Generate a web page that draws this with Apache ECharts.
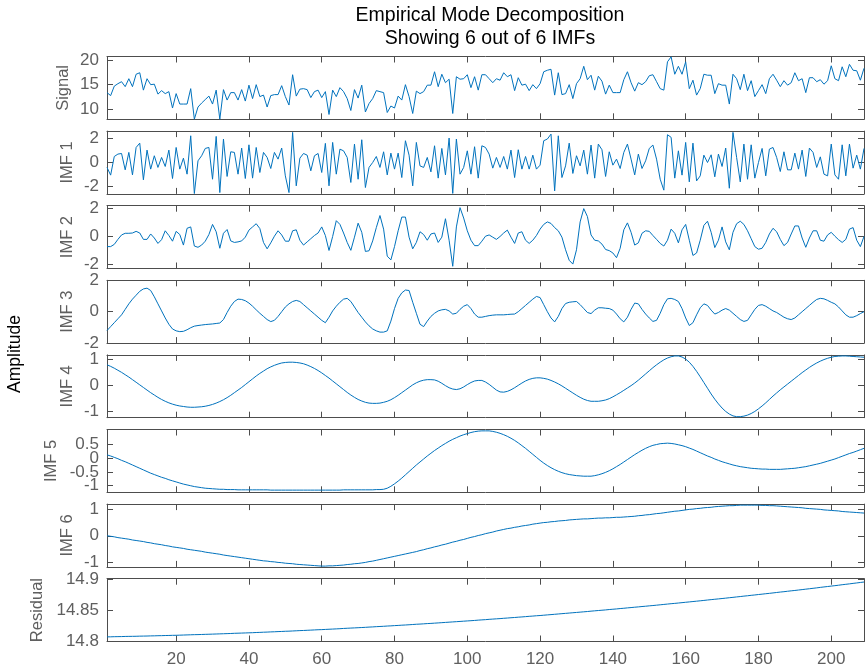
<!DOCTYPE html>
<html><head><meta charset="utf-8">
<script src="https://cdn.jsdelivr.net/npm/echarts@6/dist/echarts.min.js"></script>
<style>html,body{margin:0;padding:0;background:#fff}#c{width:865px;height:670px}</style>
</head><body><div id="c"></div>
<script>
// ---------------- data ----------------
const signal = [
13.4,12.8,14.7,15.2,15.6,14.6,16.2,14.6,17.1,17.4,
13.9,16.2,15.0,15.1,13.1,13.8,13.2,13.6,10.3,13.2,
11.1,11.1,11.1,14.2,8.05,10.5,11.3,12.0,12.7,11.1,
13.9,8.05,14.0,11.9,13.4,13.4,11.9,14.0,11.7,14.9,
12.2,15.0,12.6,12.9,10.5,12.8,13.0,13.0,14.8,12.6,
10.9,17.0,12.7,14.1,14.2,14.0,12.4,13.6,13.9,12.4,
13.6,9.0,13.9,12.6,14.4,13.6,12.2,9.8,14.0,12.3,
14.9,9.5,11.2,12.2,13.8,13.6,13.4,9.4,10.7,10.3,
12.7,11.9,15.0,12.6,9.2,13.7,13.2,13.6,14.9,14.9,
17.6,14.6,17.1,15.4,16.1,9.2,16.6,16.1,16.2,17.0,
14.4,16.6,13.9,17.0,17.0,16.2,15.4,16.2,15.9,17.4,
16.6,17.0,13.8,16.4,14.9,15.1,13.8,15.0,14.2,15.2,
17.6,17.9,18.1,12.9,17.4,13.0,13.2,15.0,12.2,15.2,
16.2,18.7,16.0,16.9,13.9,16.7,15.7,13.1,14.9,13.4,
13.4,13.4,16.0,17.6,15.4,13.7,15.4,15.0,15.6,16.8,
17.0,15.6,14.2,13.9,19.6,20.6,17.1,18.7,17.1,19.6,
14.2,15.9,12.9,14.2,17.1,16.9,16.9,13.2,15.2,14.9,
14.9,11.1,17.1,16.2,14.0,17.1,13.8,15.8,12.6,13.8,
15.0,13.2,16.2,17.1,15.9,14.6,15.8,14.9,15.4,17.4,
15.8,16.2,13.4,16.4,16.4,15.6,16.0,15.1,15.8,18.8,
16.2,15.8,18.6,16.6,19.1,17.9,17.8,15.9,18.3];
const imf1 = [
-0.44,-1.08,0.47,0.67,0.72,-0.64,0.81,-1.06,1.22,1.58,
-1.47,1.0,-0.58,0.53,-0.44,0.39,-0.36,1.0,-1.36,1.22,
-0.58,0.33,-1.0,2.19,-2.61,0.11,0.53,1.14,1.22,-1.42,
2.14,-2.53,1.92,-1.19,0.86,0.81,-1.0,1.17,-1.36,1.44,
-1.33,1.22,-0.86,0.81,0.39,-0.53,0.81,0.25,1.17,-1.14,
-2.53,2.47,-1.97,0.33,0.72,0.58,-0.72,0.53,0.72,-0.86,
1.56,-1.97,1.64,-1.0,1.08,0.94,0.39,-1.69,1.5,-1.42,
1.86,-2.11,-0.44,-0.03,0.47,-0.44,0.86,-1.06,0.75,-0.58,
0.75,-1.28,1.78,0.58,-1.97,1.64,-0.31,-0.44,0.39,-0.81,
1.36,-1.33,1.14,-1.06,2.0,-2.6,1.92,-1.0,-0.44,0.94,
-1.0,1.28,-1.33,1.36,1.22,0.67,-0.5,0.39,-0.44,0.47,
-0.58,1.0,-1.28,1.03,-0.58,0.47,-0.58,0.58,-0.58,-0.25,
1.78,1.92,2.33,-2.39,2.19,-1.28,-0.31,1.58,-0.94,0.53,
-0.31,1.0,-1.0,1.42,-1.33,1.5,1.03,-1.19,0.86,-0.25,
0.25,-0.53,0.81,1.5,0.25,-1.06,0.67,-0.53,0.11,1.14,
1.42,0.25,-1.42,-2.33,2.28,2.06,-1.33,0.94,-1.08,1.64,
-1.64,1.58,-1.56,-1.14,0.58,-0.03,0.61,-1.22,0.67,-0.36,
1.17,-2.17,2.47,0.39,-1.64,1.5,-1.42,1.44,-1.33,-0.03,
1.14,-1.14,1.08,1.22,0.39,-0.78,0.86,-0.64,-0.64,0.75,
-0.58,1.0,-1.19,1.17,0.81,-0.44,0.44,-1.0,-1.14,1.5,
-1.06,-1.42,1.44,-1.14,1.5,-0.5,0.58,-0.58,1.14];
const imf2 = [
-0.73,-0.73,-0.57,-0.21,0.11,0.23,0.23,0.25,0.37,0.25,
-0.21,-0.21,0.18,-0.11,-0.5,-0.23,0.41,0.07,-0.34,0.37,
0.14,-0.62,0.59,0.69,-0.69,-0.78,-0.62,-0.34,0.14,0.87,
0.34,-0.85,0.23,0.5,-0.32,-0.43,-0.39,-0.32,-0.05,0.46,
0.69,0.92,0.57,-0.43,-0.89,-0.46,0.02,0.41,0.11,-0.34,
-0.34,0.41,0.48,-0.27,-0.62,-0.39,-0.16,0.07,0.25,0.69,
0.07,-1.01,0.0,1.14,0.87,0.25,-0.43,-1.0,-0.05,0.96,
0.3,-1.08,-1.03,-0.32,0.64,1.51,0.53,-1.42,-1.69,-0.73,
0.41,1.4,1.4,-0.05,-0.89,-0.43,0.34,0.14,-0.27,0.18,
0.25,-0.43,-0.05,1.28,-0.27,-2.15,0.69,2.08,1.33,0.41,
-0.27,-0.66,-0.66,-0.34,0.02,0.11,-0.05,-0.21,0.0,0.25,
0.46,-0.05,-0.5,0.25,0.34,-0.27,-0.5,-0.27,0.07,0.53,
0.87,1.05,0.94,0.64,0.41,-0.05,-0.96,-1.72,-1.99,-0.96,
1.05,2.01,1.44,0.11,-0.27,-0.32,-0.55,-0.94,-1.02,-1.19,
-1.53,-0.85,0.48,0.98,0.3,-0.62,-0.46,0.23,0.41,0.37,
0.07,-0.21,-0.5,-0.69,-0.27,0.53,0.23,-0.46,0.48,0.87,
-0.27,-1.37,-1.19,-0.27,0.8,1.1,0.3,-0.8,-0.27,0.69,
-0.39,-0.96,0.3,0.92,1.1,0.87,0.41,-0.16,-0.73,-0.92,
-0.85,-0.43,0.18,0.59,0.34,-0.21,-0.66,-0.43,0.18,0.76,
0.76,-0.11,-0.78,-0.11,0.41,0.41,-0.27,-0.34,0.11,0.3,
0.02,-0.23,-0.43,-0.21,0.53,0.64,-0.27,-0.73,0.0];
const imf3 = [
-1.2,-0.95,-0.7,-0.45,-0.2,0.15,0.5,0.8,1.05,1.3,
1.45,1.5,1.35,0.95,0.5,0.05,-0.4,-0.8,-1.1,-1.22,
-1.27,-1.25,-1.15,-1.02,-0.92,-0.88,-0.85,-0.82,-0.8,-0.78,
-0.75,-0.72,-0.5,-0.05,0.35,0.65,0.8,0.78,0.7,0.55,
0.35,0.12,-0.1,-0.3,-0.5,-0.63,-0.55,-0.3,0.0,0.3,
0.5,0.65,0.72,0.65,0.45,0.25,0.05,-0.15,-0.35,-0.55,
-0.7,-0.35,0.05,0.35,0.6,0.8,0.85,0.65,0.3,-0.05,
-0.35,-0.65,-0.9,-1.1,-1.22,-1.3,-1.3,-1.22,-0.6,0.2,
0.85,1.2,1.38,1.35,0.6,-0.1,-0.8,-0.95,-0.6,-0.3,
-0.1,0.05,0.12,0.15,0.05,-0.15,-0.1,0.15,0.35,0.45,
0.2,-0.15,-0.35,-0.35,-0.3,-0.25,-0.22,-0.2,-0.2,-0.2,
-0.18,-0.16,-0.15,0.0,0.2,0.4,0.6,0.8,0.97,0.9,
0.45,0.0,-0.4,-0.65,-0.3,0.2,0.52,0.6,0.63,0.65,
0.45,0.2,-0.05,-0.12,0.1,0.25,0.25,0.22,0.2,0.1,
-0.15,-0.45,-0.65,-0.35,0.15,0.55,0.5,0.15,-0.15,-0.4,
-0.62,-0.55,-0.1,0.45,0.82,0.85,0.78,0.65,0.2,-0.4,
-0.88,-0.7,-0.2,0.25,0.5,0.4,0.1,-0.15,-0.05,0.1,
0.2,0.1,-0.1,-0.3,-0.5,-0.62,-0.55,-0.2,0.15,0.4,
0.45,0.35,0.2,0.05,-0.05,-0.2,-0.35,-0.45,-0.5,-0.4,
-0.2,0.0,0.2,0.4,0.6,0.78,0.85,0.82,0.72,0.6,
0.5,0.3,0.05,-0.2,-0.35,-0.35,-0.25,-0.12,0.0];
const imf4 = [
0.8,0.74,0.67,0.59,0.51,0.42,0.33,0.23,0.13,0.03,
-0.07,-0.17,-0.27,-0.36,-0.45,-0.53,-0.6,-0.66,-0.71,-0.75,
-0.78,-0.8,-0.82,-0.83,-0.83,-0.82,-0.81,-0.79,-0.76,-0.72,
-0.67,-0.61,-0.54,-0.46,-0.37,-0.27,-0.17,-0.07,0.04,0.15,
0.26,0.37,0.47,0.56,0.65,0.72,0.78,0.83,0.87,0.89,
0.9,0.9,0.89,0.87,0.84,0.79,0.73,0.66,0.58,0.49,
0.39,0.29,0.18,0.07,-0.04,-0.15,-0.26,-0.36,-0.45,-0.53,
-0.59,-0.64,-0.67,-0.68,-0.68,-0.67,-0.64,-0.6,-0.54,-0.46,
-0.37,-0.27,-0.17,-0.07,0.03,0.11,0.17,0.21,0.23,0.23,
0.22,0.17,0.09,0.0,-0.08,-0.13,-0.15,-0.12,-0.05,0.04,
0.12,0.18,0.2,0.2,0.14,0.05,-0.06,-0.17,-0.24,-0.25,
-0.22,-0.16,-0.08,0.01,0.1,0.18,0.24,0.28,0.3,0.3,
0.28,0.25,0.2,0.14,0.07,-0.01,-0.1,-0.19,-0.28,-0.37,
-0.45,-0.52,-0.57,-0.6,-0.6,-0.6,-0.58,-0.55,-0.5,-0.43,
-0.35,-0.27,-0.18,-0.09,0.0,0.1,0.21,0.33,0.45,0.57,
0.69,0.8,0.9,0.99,1.06,1.11,1.14,1.14,1.1,1.02,
0.9,0.74,0.55,0.34,0.12,-0.1,-0.32,-0.52,-0.7,-0.86,
-0.99,-1.09,-1.16,-1.19,-1.19,-1.17,-1.13,-1.07,-0.99,-0.89,
-0.78,-0.66,-0.53,-0.4,-0.28,-0.16,-0.05,0.06,0.17,0.28,
0.39,0.5,0.6,0.7,0.79,0.87,0.94,1.0,1.05,1.09,
1.12,1.13,1.14,1.14,1.13,1.12,1.11,1.1,1.09];
const imf5 = [
0.12,0.08,0.03,-0.02,-0.08,-0.13,-0.19,-0.25,-0.31,-0.37,
-0.43,-0.49,-0.55,-0.6,-0.65,-0.7,-0.74,-0.79,-0.83,-0.87,
-0.91,-0.95,-0.98,-1.01,-1.04,-1.06,-1.08,-1.1,-1.11,-1.12,
-1.13,-1.14,-1.14,-1.15,-1.15,-1.15,-1.16,-1.16,-1.16,-1.16,
-1.16,-1.16,-1.16,-1.16,-1.16,-1.17,-1.17,-1.17,-1.17,-1.17,
-1.17,-1.17,-1.17,-1.17,-1.17,-1.17,-1.17,-1.17,-1.17,-1.17,
-1.17,-1.17,-1.17,-1.17,-1.17,-1.16,-1.16,-1.16,-1.16,-1.16,
-1.16,-1.16,-1.16,-1.16,-1.15,-1.15,-1.14,-1.1,-1.03,-0.94,
-0.84,-0.73,-0.61,-0.49,-0.37,-0.25,-0.14,-0.03,0.08,0.18,
0.28,0.37,0.46,0.54,0.62,0.69,0.75,0.81,0.86,0.9,
0.94,0.97,0.99,1.0,1.0,1.0,0.98,0.95,0.91,0.86,
0.8,0.73,0.65,0.56,0.46,0.36,0.25,0.14,0.03,-0.08,
-0.18,-0.27,-0.35,-0.42,-0.48,-0.53,-0.57,-0.6,-0.62,-0.64,
-0.65,-0.66,-0.66,-0.66,-0.64,-0.61,-0.57,-0.52,-0.46,-0.39,
-0.31,-0.23,-0.14,-0.05,0.04,0.13,0.21,0.29,0.36,0.42,
0.47,0.5,0.53,0.54,0.55,0.54,0.52,0.49,0.46,0.42,
0.37,0.32,0.26,0.2,0.14,0.08,0.03,-0.03,-0.08,-0.13,
-0.17,-0.21,-0.25,-0.28,-0.31,-0.33,-0.35,-0.37,-0.38,-0.39,
-0.4,-0.4,-0.41,-0.41,-0.41,-0.41,-0.4,-0.39,-0.38,-0.37,
-0.35,-0.33,-0.31,-0.28,-0.25,-0.22,-0.19,-0.15,-0.11,-0.07,
-0.03,0.02,0.07,0.12,0.17,0.21,0.26,0.31,0.36];
const imf6 = [
0.00,-0.02,-0.04,-0.07,-0.09,-0.11,-0.13,-0.16,-0.18,-0.20,
-0.22,-0.25,-0.27,-0.30,-0.32,-0.34,-0.37,-0.39,-0.42,-0.44,
-0.46,-0.48,-0.51,-0.53,-0.55,-0.57,-0.59,-0.62,-0.64,-0.66,
-0.68,-0.70,-0.73,-0.75,-0.77,-0.79,-0.81,-0.83,-0.85,-0.87,
-0.89,-0.91,-0.93,-0.95,-0.96,-0.98,-0.99,-1.01,-1.02,-1.04,
-1.05,-1.06,-1.08,-1.09,-1.10,-1.11,-1.12,-1.13,-1.14,-1.15,
-1.15,-1.14,-1.14,-1.13,-1.12,-1.11,-1.09,-1.08,-1.06,-1.05,
-1.03,-1.01,-0.98,-0.96,-0.93,-0.90,-0.87,-0.84,-0.81,-0.78,
-0.75,-0.72,-0.69,-0.66,-0.63,-0.60,-0.56,-0.53,-0.49,-0.46,
-0.42,-0.39,-0.35,-0.32,-0.28,-0.24,-0.21,-0.17,-0.14,-0.10,
-0.06,-0.03,0.01,0.04,0.08,0.11,0.14,0.18,0.21,0.24,
0.27,0.29,0.32,0.34,0.37,0.39,0.41,0.44,0.46,0.48,
0.50,0.51,0.53,0.54,0.56,0.57,0.58,0.60,0.61,0.62,
0.63,0.64,0.64,0.65,0.66,0.67,0.67,0.68,0.68,0.69,
0.70,0.70,0.71,0.72,0.73,0.74,0.76,0.77,0.79,0.80,
0.82,0.84,0.85,0.87,0.89,0.91,0.93,0.94,0.96,0.98,
1.00,1.01,1.03,1.04,1.06,1.07,1.08,1.10,1.11,1.12,
1.13,1.14,1.14,1.15,1.16,1.16,1.16,1.16,1.16,1.16,
1.15,1.15,1.14,1.14,1.13,1.12,1.11,1.10,1.09,1.08,
1.07,1.06,1.04,1.03,1.02,1.01,1.00,0.98,0.97,0.96,
0.95,0.94,0.92,0.91,0.90,0.89,0.88,0.87,0.86];
const residual = [
14.8070,14.8071,14.8073,14.8074,14.8075,14.8077,14.8078,14.8079,14.8080,14.8082,
14.8083,14.8084,14.8086,14.8087,14.8089,14.8090,14.8092,14.8093,14.8095,14.8096,
14.8098,14.8100,14.8102,14.8104,14.8106,14.8107,14.8109,14.8111,14.8113,14.8115,
14.8117,14.8119,14.8121,14.8123,14.8125,14.8128,14.8130,14.8132,14.8134,14.8136,
14.8138,14.8141,14.8143,14.8146,14.8148,14.8151,14.8153,14.8156,14.8158,14.8161,
14.8163,14.8166,14.8169,14.8172,14.8174,14.8177,14.8180,14.8183,14.8186,14.8188,
14.8191,14.8194,14.8197,14.8200,14.8203,14.8207,14.8210,14.8213,14.8216,14.8219,
14.8222,14.8225,14.8229,14.8232,14.8236,14.8239,14.8242,14.8246,14.8249,14.8253,
14.8256,14.8260,14.8263,14.8267,14.8271,14.8275,14.8278,14.8282,14.8286,14.8289,
14.8293,14.8297,14.8301,14.8305,14.8309,14.8313,14.8317,14.8321,14.8325,14.8329,
14.8333,14.8337,14.8342,14.8346,14.8350,14.8355,14.8359,14.8363,14.8367,14.8372,
14.8376,14.8381,14.8385,14.8390,14.8394,14.8399,14.8404,14.8408,14.8413,14.8417,
14.8422,14.8427,14.8432,14.8437,14.8442,14.8447,14.8452,14.8457,14.8462,14.8467,
14.8472,14.8477,14.8482,14.8488,14.8493,14.8498,14.8503,14.8508,14.8514,14.8519,
14.8524,14.8530,14.8535,14.8541,14.8546,14.8552,14.8557,14.8563,14.8568,14.8574,
14.8579,14.8585,14.8591,14.8597,14.8603,14.8609,14.8614,14.8620,14.8626,14.8632,
14.8638,14.8644,14.8650,14.8656,14.8662,14.8669,14.8675,14.8681,14.8687,14.8693,
14.8699,14.8706,14.8712,14.8719,14.8725,14.8732,14.8738,14.8745,14.8751,14.8758,
14.8764,14.8771,14.8777,14.8784,14.8791,14.8798,14.8804,14.8811,14.8818,14.8824,
14.8831,14.8838,14.8845,14.8852,14.8859,14.8866,14.8874,14.8881,14.8888,14.8895,
14.8902,14.8909,14.8917,14.8924,14.8931,14.8939,14.8946,14.8954,14.8961];

const panelNames = ['Signal','IMF 1','IMF 2','IMF 3','IMF 4','IMF 5','IMF 6','Residual'];
const panelSeries = [signal, imf1, imf2, imf3, imf4, imf5, imf6, residual];
const yMin = [8.03, -2.64, -2.31, -2, -1.23, -1.25, -1.18, 14.7995];
const yMax = [20.67, 2.58, 2.22, 2, 1.18, 1.05, 1.2, 14.9015];
const yTickValues = [[10,15,20],[-2,0,2],[-2,0,2],[-2,0,2],[-1,0,1],[-1,-0.5,0,0.5],[-1,0,1],[14.8,14.85,14.9]];
const xTickValues = [20,40,60,80,100,120,140,160,180,200];
const xMin = 1, xMax = 209;
const titleLines = ['Empirical Mode Decomposition', 'Showing 6 out of 6 IMFs'];
const yLabel = 'Amplitude';

// ---------------- layout / style ----------------
const L = {
  left: 107, right: 1, top0: 56.5, step: 74.6, height: 62.8,
  nameGaps: [35, 31, 31, 31, 31, 47, 31, 61],
  axisColor: '#4d4d4d', textColor: '#5f5f5f', lineColor: '#0072BD',
  font: '"Liberation Sans", Arial, Helvetica, sans-serif',
  tickFont: 17, nameFont: 16.5, titleFont: 19.5
};

const grids = [], xAxes = [], yAxes = [], series = [];
const fmt = v => String(Math.round(v * 1000) / 1000);
panelSeries.forEach((arr, k) => {
  grids.push({left: L.left, right: L.right, top: L.top0 + L.step * k, height: L.height,
              containLabel: false, outerBoundsMode: 'none'});
  const isLast = k === panelSeries.length - 1;
  const tickCommon = {show: true, inside: true, length: 6, lineStyle: {color: L.axisColor, width: 1}};
  const lineCommon = {show: true, onZero: false, lineStyle: {color: L.axisColor, width: 1}};
  const labelCommon = {show: true, color: L.textColor, fontSize: L.tickFont, lineHeight: 11,
                       fontFamily: L.font, margin: 8, showMinLabel: true, showMaxLabel: true,
                       hideOverlap: false, formatter: fmt};
  xAxes.push({
    gridIndex: k, type: 'value', min: xMin, max: xMax, position: 'bottom',
    axisLine: lineCommon,
    axisTick: Object.assign({customValues: xTickValues}, tickCommon),
    axisLabel: {show: isLast, customValues: xTickValues, color: L.textColor, fontSize: L.tickFont,
                fontFamily: L.font, margin: 9, hideOverlap: false},
    splitLine: {show: false}
  });
  xAxes.push({
    gridIndex: k, type: 'value', min: xMin, max: xMax, position: 'top',
    axisLine: lineCommon,
    axisTick: Object.assign({customValues: xTickValues}, tickCommon),
    axisLabel: {show: false}, splitLine: {show: false}
  });
  // tick labels: alternate values go on a twin axis so dense labels are not dropped
  const ticks = yTickValues[k];
  const dense = ticks.length > 3;
  const mainLabels = dense ? ticks.filter((_, j) => j % 2 === 0) : ticks;
  const twinLabels = dense ? ticks.filter((_, j) => j % 2 === 1) : [];
  yAxes.push({
    gridIndex: k, type: 'value', min: yMin[k], max: yMax[k], position: 'left',
    axisLine: lineCommon,
    axisTick: Object.assign({customValues: ticks}, tickCommon),
    axisLabel: Object.assign({customValues: mainLabels}, labelCommon),
    splitLine: {show: false},
    name: panelNames[k], nameLocation: 'middle', nameRotate: 90, nameGap: L.nameGaps[k],
    nameMoveOverlap: false,
    nameTextStyle: {color: L.textColor, fontSize: L.nameFont, fontFamily: L.font}
  });
  yAxes.push({
    gridIndex: k, type: 'value', min: yMin[k], max: yMax[k], position: 'right',
    axisLine: lineCommon,
    axisTick: Object.assign({customValues: ticks}, tickCommon),
    axisLabel: {show: false}, splitLine: {show: false}
  });
  if (dense) {
    yAxes.push({
      gridIndex: k, type: 'value', min: yMin[k], max: yMax[k], position: 'left',
      axisLine: {show: false}, axisTick: {show: false}, splitLine: {show: false},
      axisLabel: Object.assign({customValues: twinLabels}, labelCommon)
    });
  }
  series.push({
    type: 'line', xAxisIndex: 2 * k, yAxisIndex: yAxes.length - (dense ? 3 : 2),
    data: arr.map((v, j) => [j + 1, v]),
    showSymbol: false, symbol: 'none', smooth: false, clip: true,
    lineStyle: {color: L.lineColor, width: 1}, emphasis: {disabled: true},
    animation: false
  });
});

const chart = echarts.init(document.getElementById('c'), null, {renderer: 'canvas'});
chart.setOption({
  backgroundColor: '#fff',
  animation: false,
  title: [
    {text: titleLines[0], left: 485, top: 1, textAlign: 'center',
     textStyle: {fontSize: L.titleFont, fontWeight: 'normal', color: '#000', fontFamily: L.font}},
    {text: titleLines[1], left: 485, top: 24, textAlign: 'center',
     textStyle: {fontSize: L.titleFont, fontWeight: 'normal', color: '#000', fontFamily: L.font}}
  ],
  graphic: [{type: 'text', x: 15, y: 354, rotation: Math.PI / 2,
    style: {text: yLabel, align: 'center', verticalAlign: 'middle', fontSize: 17.5,
            fill: '#000', fontFamily: L.font}}],
  grid: grids, xAxis: xAxes, yAxis: yAxes, series: series
});
</script></body></html>
